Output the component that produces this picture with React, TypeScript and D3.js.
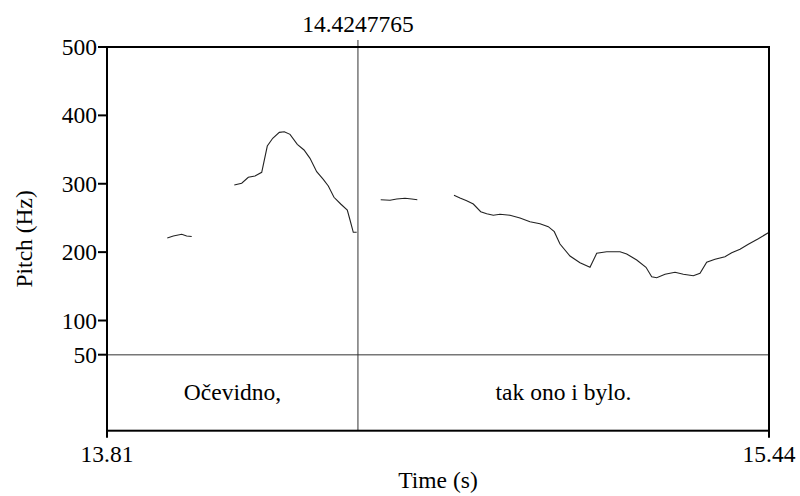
import React from 'react';
import * as d3 from 'd3';

// pitch contour, voiced stretches only (time in s, pitch in Hz)
const seg1Time = [13.9539, 13.9688, 13.9895, 14.0018, 14.0142];
const seg1Hz = [220.7, 223.6, 226.1, 223.6, 222.9];

const seg2Time = [14.1194, 14.1377, 14.154, 14.1705, 14.1871, 14.2009, 14.2143, 14.2306, 14.2429, 14.257, 14.275, 14.2916, 14.3064, 14.3229, 14.3392, 14.3516, 14.3656, 14.3822, 14.3985, 14.4052, 14.4133, 14.4217];
const seg2Hz = [298.2, 300.7, 309.4, 311.3, 316.7, 355.2, 366.5, 375.2, 376.1, 372.3, 357.7, 349.4, 337.2, 317.6, 306.5, 296.7, 280.2, 270.4, 261.6, 247.0, 229.0, 229.0];

const seg3Time = [14.481, 14.504, 14.5205, 14.541, 14.5576, 14.5714];
const seg3Hz = [276.7, 275.8, 277.7, 278.7, 277.7, 276.7];

const seg4Time = [14.662, 14.6768, 14.6934, 14.7097, 14.728, 14.7428, 14.7591, 14.7756, 14.8003, 14.825, 14.8497, 14.8744, 14.8949, 14.9097, 14.9238, 14.9485, 14.9732, 14.9979, 15.0145, 15.0392, 15.072, 15.0886, 15.1133, 15.1362, 15.1503, 15.1627, 15.1832, 15.2079, 15.2284, 15.2531, 15.2696, 15.2861, 15.3066, 15.3313, 15.3479, 15.3684, 15.3889, 15.4136, 15.4383];
const seg4Hz = [283.1, 279.2, 275.2, 270.4, 259.1, 256.2, 253.9, 255.3, 253.9, 249.9, 244.5, 241.6, 237.2, 229.9, 211.9, 194.3, 184.5, 177.8, 198.3, 200.6, 200.6, 197.3, 188.5, 177.8, 164.1, 162.6, 167.6, 170.5, 167.6, 165.5, 169.0, 185.1, 189.5, 193.3, 199.2, 204.1, 211.5, 219.6, 228.4];

const segments = [
  [seg1Time, seg1Hz],
  [seg2Time, seg2Hz],
  [seg3Time, seg3Hz],
  [seg4Time, seg4Hz],
];

const timeStart = 13.805;
const timeEnd = 15.44;
const timeLabels = ['13.81', '15.44'];
const yTicks = [50, 100, 200, 300, 400, 500];

const cursorTime = 14.4247765;
const cursorLabel = '14.4247765';

const words = ['Očevidno,', 'tak ono i bylo.'];
const boundaries = [timeStart, cursorTime, timeEnd];

const W = 800;
const H = 496;
const left = 107;
const right = 769;
const top = 47;
const pitchBottom = 354.7;
const bottom = 430.7;
const font = '"Liberation Serif", "Times New Roman", serif';
const fs = 23.5;

export default function App() {
  const x = d3.scaleLinear().domain([timeStart, timeEnd]).range([left, right]);
  const y = d3.scaleLinear().domain([50, 500]).range([pitchBottom, top]);
  const line = d3.line<[number, number]>().x(d => x(d[0])).y(d => y(d[1]));
  const cx = x(cursorTime);

  return (
    <svg width={W} height={H} style={{ position: 'absolute', left: 0, top: 0, background: '#fff' }}
      fontFamily={font} fontSize={fs}>
      {/* pitch curve */}
      {segments.map(([ts, hz], i) => (
        <path key={i} d={line(ts.map((t, j) => [t, hz[j]] as [number, number])) || ''}
          fill="none" stroke="#222" strokeWidth={1.1} />
      ))}

      {/* tier separator at 50 Hz */}
      <line x1={left} x2={right} y1={y(50)} y2={y(50)} stroke="#777" strokeWidth={1.5} />

      {/* cursor / interval boundary */}
      <line x1={cx} x2={cx} y1={top - 7} y2={bottom} stroke="#333" strokeWidth={1} />
      <text x={cx} y={31.5} textAnchor="middle">{cursorLabel}</text>

      {/* interval labels */}
      {words.map((w, i) => (
        <text key={w} x={(x(boundaries[i]) + x(boundaries[i + 1])) / 2} y={400} textAnchor="middle">{w}</text>
      ))}

      {/* frame */}
      <rect x={left} y={top} width={right - left} height={bottom - top} fill="none" stroke="#000" strokeWidth={2} />

      {/* y axis */}
      {yTicks.map(v => (
        <g key={v}>
          <line x1={left - 9} x2={left} y1={y(v)} y2={y(v)} stroke="#000" strokeWidth={2} />
          <text x={97} y={y(v)} dy="0.34em" textAnchor="end">{v}</text>
        </g>
      ))}
      <text transform={`translate(32,${(top + bottom) / 2}) rotate(-90)`} textAnchor="middle">Pitch (Hz)</text>

      {/* x axis */}
      {[timeStart, timeEnd].map((t, i) => (
        <g key={i}>
          <line x1={x(t)} x2={x(t)} y1={bottom} y2={bottom + 7} stroke="#000" strokeWidth={2} />
          <text x={x(t)} y={461.5} textAnchor="middle">{timeLabels[i]}</text>
        </g>
      ))}
      <text x={(left + right) / 2} y={488} textAnchor="middle">Time (s)</text>
    </svg>
  );
}
